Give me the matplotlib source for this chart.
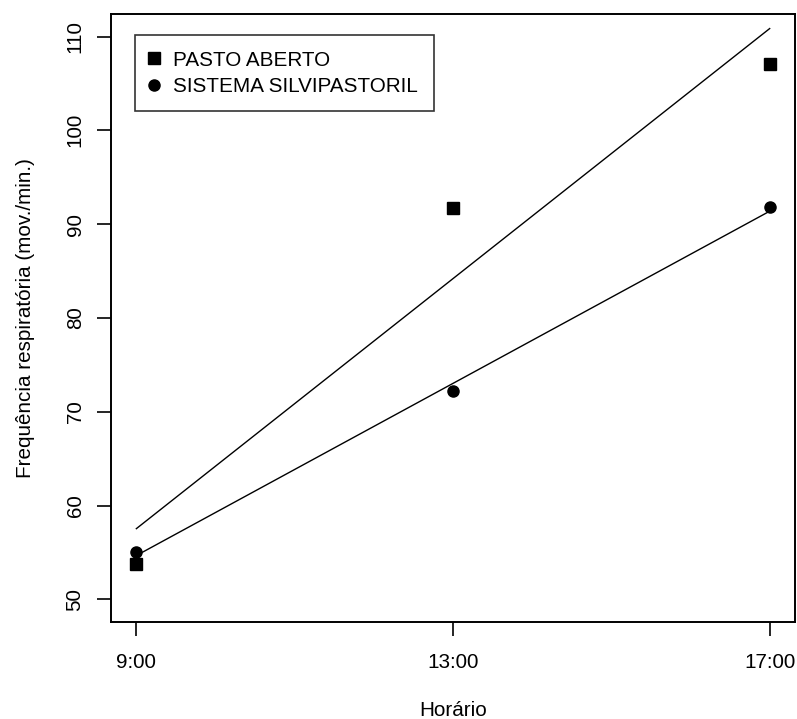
import numpy as np
import matplotlib
matplotlib.use("Agg")
import matplotlib.pyplot as plt

plt.rcParams['font.family'] = ['Liberation Sans', 'DejaVu Sans']

horas = [9, 13, 17]
hora_labels = ["9:00", "13:00", "17:00"]
pasto_aberto = [53.8, 91.7, 107.1]
silvipastoril = [55.1, 72.2, 91.8]
y_ticks = [50, 60, 70, 80, 90, 100, 110]

fig = plt.figure(figsize=(7.97, 7.19), dpi=100)
ax = fig.add_axes([0.1393, 0.1349, 0.8582, 0.8456])

fs = 14.9
x = np.array(horas, dtype=float)
xx = np.linspace(x.min(), x.max(), 50)
for vals, mk, ms, lab in [(pasto_aberto, 's', 8.5, "PASTO ABERTO"),
                          (silvipastoril, 'o', 8.0, "SISTEMA SILVIPASTORIL")]:
    coef = np.polyfit(x, np.array(vals), 1)
    ax.plot(xx, np.polyval(coef, xx), color='black', lw=1.0)
    ax.plot(x, vals, linestyle='none', marker=mk, ms=ms, color='black', label=lab)

ax.set_xlim(8.68, 17.32)
ax.set_ylim(47.6, 112.4)
ax.set_xticks(horas)
ax.set_xticklabels(hora_labels)
ax.set_yticks(y_ticks)
ax.set_yticklabels([str(v) for v in y_ticks], rotation=90, va='center')
ax.tick_params(direction='out', length=10, width=1.2, labelsize=fs)
ax.tick_params(axis='x', pad=12)
ax.tick_params(axis='y', pad=9)
for s in ax.spines.values():
    s.set_linewidth(1.4)
ax.set_xlabel("Horário", fontsize=fs, labelpad=21)
ax.set_ylabel("Frequência respiratória (mov./min.)", fontsize=fs, labelpad=22)

leg = ax.legend(loc='upper left', bbox_to_anchor=(0.0351, 0.9655), fontsize=fs,
                frameon=True, fancybox=False, edgecolor='black', borderaxespad=0,
                handlelength=0.3, handletextpad=0.8, labelspacing=0.35, borderpad=0.75)
leg.get_frame().set_linewidth(1.2)

fig.savefig("out.png", dpi=100)
